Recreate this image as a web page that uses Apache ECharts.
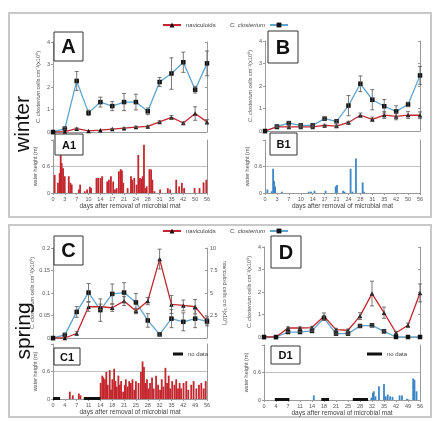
<!DOCTYPE html>
<html>
<head>
<meta charset="utf-8">
<script src="https://cdn.jsdelivr.net/npm/echarts@6/dist/echarts.min.js"></script>
<style>
  html, body { margin: 0; padding: 0; background: #fff; }
  #chart { width: 438px; height: 421px; }
</style>
</head>
<body>
<div id="chart"></div>
<script>
// sampling days
const winterDays = ['0', '3', '7', '10', '14', '17', '21', '24', '28', '31', '35', '42', '50', '56']
const springDays = ['0', '4', '7', '11', '14', '18', '21', '25', '28', '32', '35', '42', '49', '56']

// A - winter, left
const aClost = [0, 0.15, 2.27, 0.85, 1.33, 1.15, 1.33, 1.33, 0.92, 2.22, 2.6, 3.1, 1.88, 3.05]
const aClostErr = [0, 0.05, 0.42, 0.12, 0.22, 0.2, 0.38, 0.35, 0.15, 0.2, 0.7, 0.45, 0.15, 0.55]
const aNavi = [0, 0.02, 0.15, 0.05, 0.08, 0.13, 0.17, 0.22, 0.25, 0.45, 0.65, 0.4, 0.82, 0.45]
const aNaviErr = [0, 0, 0.03, 0, 0, 0.02, 0.02, 0.03, 0.03, 0.05, 0.08, 0.05, 0.3, 0.1]

// B - winter, right
const bClost = [0, 0.2, 0.35, 0.25, 0.25, 0.55, 0.43, 1.13, 2.1, 1.39, 1.1, 0.87, 1.18, 2.47]
const bClostErr = [0, 0.05, 0.05, 0.05, 0.05, 0.05, 0.05, 0.45, 0.35, 0.45, 0.3, 0.25, 0.1, 0.4]
const bNavi = [0, 0.18, 0.18, 0.18, 0.18, 0.25, 0.22, 0.38, 0.7, 0.52, 0.71, 0.65, 0.71, 0.7]
const bNaviErr = [0, 0.03, 0.05, 0.05, 0.05, 0.05, 0.05, 0.05, 0.1, 0.1, 0.15, 0.15, 0.15, 0.15]

// C - spring, left (naviculoids on right axis)
const cClost = [0, 0.007, 0.058, 0.101, 0.062, 0.098, 0.101, 0.079, 0.039, 0.008, 0.043, 0.036, 0.043, 0.037]
const cClostErr = [0, 0.003, 0.012, 0.02, 0.025, 0.022, 0.022, 0.02, 0.015, 0.003, 0.02, 0.02, 0.02, 0.01]
const cNavi = [0, 0, 0.5, 3.47, 3.47, 3.36, 4.1, 3.0, 4.1, 8.77, 3.73, 3.62, 3.47, 1.87]
const cNaviErr = [0, 0, 0.2, 0.5, 0.3, 0.4, 0.5, 0.3, 0.4, 1.1, 1.0, 0.6, 0.8, 0.3]

// D - spring, right
const dClost = [0, 0, 0.22, 0.22, 0.27, 0.84, 0.15, 0.15, 0.49, 0.52, 0.25, 0, 0, 0]
const dClostErr = [0, 0, 0.03, 0.03, 0.03, 0.1, 0.03, 0.03, 0.05, 0.05, 0.03, 0, 0, 0]
const dNavi = [0, 0, 0.4, 0.4, 0.42, 0.92, 0.33, 0.3, 0.93, 1.93, 1.08, 0.19, 0.52, 1.96]
const dNaviErr = [0, 0, 0.05, 0.05, 0.05, 0.15, 0.05, 0.05, 0.15, 0.55, 0.25, 0.05, 0.1, 0.4]

// water height (m): [position in sampling intervals, height]
const a1Bars = [[0.14, 0.41], [0.42, 0.23], [0.56, 0.45], [0.65, 0.95], [0.73, 0.68], [0.85, 0.56], [0.99, 0.38],
  [1.33, 0.38], [1.47, 0.23], [1.58, 0.19], [2.18, 0.08], [2.29, 0.19], [2.68, 0.04], [2.88, 0.08], [3.11, 0.14],
  [3.22, 0.11], [3.67, 0.34], [3.81, 0.34], [4.01, 0.34], [4.15, 0.38], [4.58, 0.26], [4.72, 0.3], [4.89, 0.38],
  [5.08, 0.26], [5.23, 0.08], [5.37, 0.11], [5.56, 0.49], [5.71, 0.54], [5.82, 0.51], [5.93, 0.23], [6.3, 0.11],
  [6.58, 0.38], [6.69, 0.3], [6.86, 0.34], [7.06, 0.19], [7.2, 0.86], [7.34, 0.34], [7.46, 0.32], [7.57, 0.38],
  [7.68, 1.09], [7.82, 0.11], [7.91, 0.15], [8.14, 0.54], [8.28, 0.53], [8.39, 0.3], [8.56, 0.04], [9.04, 0.08],
  [9.69, 0.11], [9.89, 0.08], [10.4, 0.3], [10.65, 0.15], [10.88, 0.23], [11.07, 0.11], [11.95, 0.11],
  [12.37, 0.11], [12.71, 0.24], [12.94, 0.3]]
const b1Bars = [[0.2, 0.08], [0.56, 0.04], [0.68, 0.55], [0.76, 0.27], [0.85, 0.15], [1.41, 0.03], [3.67, 0.03],
  [3.87, 0.03], [4.15, 0.05], [5.08, 0.05], [5.93, 0.15], [6.04, 0.18], [6.55, 0.05], [6.67, 0.03], [7.18, 0.55],
  [7.34, 0.03], [7.63, 0.78], [8.19, 0.24], [8.31, 0.03]]
const c1Bars = [[1.42, 0.16], [1.67, 0.08], [2.18, 0.12], [2.32, 0.08], [4.02, 0.35], [4.16, 0.51], [4.25, 0.47],
  [4.39, 0.43], [4.5, 0.59], [4.62, 0.31], [4.79, 0.63], [4.9, 0.2], [5.01, 0.43], [5.16, 0.66], [5.27, 0.39],
  [5.38, 0.27], [5.52, 0.51], [5.64, 0.31], [5.75, 0.39], [5.92, 0.16], [6.06, 0.31], [6.15, 0.43], [6.29, 0.27],
  [6.43, 0.39], [6.57, 0.35], [6.71, 0.43], [6.86, 0.2], [7.0, 0.39], [7.22, 0.35], [7.42, 0.59], [7.56, 0.82],
  [7.68, 0.7], [7.79, 0.35], [7.93, 0.43], [8.05, 0.23], [8.19, 0.35], [8.36, 0.47], [8.5, 0.23], [8.7, 0.51],
  [8.87, 0.31], [9.04, 0.2], [9.18, 0.43], [9.32, 0.27], [9.49, 0.68], [9.63, 0.35], [9.77, 0.51], [9.89, 0.23],
  [10.06, 0.39], [10.25, 0.31], [10.4, 0.43], [10.55, 0.23], [10.69, 0.35], [10.82, 0.23], [11.02, 0.35],
  [11.25, 0.39], [11.42, 0.2], [11.67, 0.31], [11.87, 0.39], [12.1, 0.23], [12.32, 0.31], [12.52, 0.35],
  [12.72, 0.23], [12.89, 0.39]]
const d1Bars = [[4.15, 0.1], [8.95, 0.05], [9.07, 0.16], [9.15, 0.19], [9.29, 0.08], [9.58, 0.3], [10.0, 0.35],
  [10.14, 0.08], [10.31, 0.12], [10.51, 0.08], [10.71, 0.07], [11.3, 0.1], [11.5, 0.1], [11.92, 0.03],
  [12.06, 0.01], [12.43, 0.47], [12.54, 0.44], [12.71, 0.19]]

// periods without water data: [start, end]
const c1NoData = [[0, 0.6], [2.6, 4.0]]
const d1NoData = [[0.9, 2.12], [4.77, 5.42], [7.4, 8.67]]

const RED = '#c4262e'
const BLUE = '#5fa5cf'
const BAR_BLUE = '#3d86c6'
const AXIS = '#9a9a9a'
const LBL = '#555'
const FONT = 'Liberation Sans'
const CLOST_NAME = '{i|C. closterium} cells cm⁻²(x10⁵)'

const panels = [
  { grid: { left: 53, top: 42, width: 154, height: 90 }, sub: { left: 53, top: 140, width: 154, height: 53 },
    days: winterDays, clost: aClost, clostErr: aClostErr, navi: aNavi, naviErr: aNaviErr,
    bars: a1Bars, barColor: RED, noData: [], yMax: 4, yStep: 1 },
  { grid: { left: 265, top: 41, width: 155, height: 90 }, sub: { left: 265, top: 140, width: 155, height: 53 },
    days: winterDays, clost: bClost, clostErr: bClostErr, navi: bNavi, naviErr: bNaviErr,
    bars: b1Bars, barColor: BAR_BLUE, noData: [], yMax: 4, yStep: 1 },
  { grid: { left: 53, top: 248, width: 154, height: 90 }, sub: { left: 53, top: 344, width: 154, height: 55 },
    days: springDays, clost: cClost, clostErr: cClostErr, navi: cNavi, naviErr: cNaviErr,
    bars: c1Bars, barColor: RED, noData: c1NoData, yMax: 0.2, yStep: 0.05, naviRight: true },
  { grid: { left: 264, top: 247, width: 156, height: 90 }, sub: { left: 264, top: 345, width: 156, height: 55 },
    days: springDays, clost: dClost, clostErr: dClostErr, navi: dNavi, naviErr: dNaviErr,
    bars: d1Bars, barColor: BAR_BLUE, noData: d1NoData, yMax: 4, yStep: 1 }
]

// error bar with caps
function errItem(params, api) {
  const i = api.value(0), v = api.value(1), e = api.value(2)
  if (!e) return
  const top = api.coord([i, v + e])
  const bot = api.coord([i, Math.max(0, v - e)])
  const st = { stroke: '#555', lineWidth: 0.8 }
  return {
    type: 'group',
    children: [
      { type: 'line', shape: { x1: top[0], y1: top[1], x2: bot[0], y2: bot[1] }, style: st },
      { type: 'line', shape: { x1: top[0] - 2, y1: top[1], x2: top[0] + 2, y2: top[1] }, style: st },
      { type: 'line', shape: { x1: bot[0] - 2, y1: bot[1], x2: bot[0] + 2, y2: bot[1] }, style: st }
    ]
  }
}

// thick black segment on the baseline = no data
function gapItem(params, api) {
  const a = api.coord([api.value(0), 0])
  const b = api.coord([api.value(1), 0])
  return { type: 'rect', shape: { x: a[0], y: a[1] - 2, width: b[0] - a[0], height: 3 }, style: { fill: '#111' } }
}

const axisLine = { show: true, lineStyle: { color: AXIS, width: 1 } }
const tickLbl = { fontSize: 5.5, color: LBL, fontFamily: FONT, margin: 3 }

const grid = [], xAxis = [], yAxis = [], series = []

panels.forEach((p, k) => {
  // line panel
  const g = grid.length
  grid.push(p.grid)
  const xL = xAxis.length
  xAxis.push({ gridIndex: g, type: 'category', data: p.days, boundaryGap: false,
    axisLine, axisTick: { show: false }, axisLabel: { show: false } })
  const yL = yAxis.length
  yAxis.push({ gridIndex: g, type: 'value', min: 0, max: p.yMax, interval: p.yStep,
    axisLine, axisTick: { show: true, length: 2, lineStyle: { color: AXIS } },
    axisLabel: tickLbl, splitLine: { show: false },
    name: CLOST_NAME, nameLocation: 'middle', nameGap: p.yMax < 1 ? 17 : 12,
    nameTextStyle: { fontSize: 5.5, color: LBL, fontFamily: FONT, rich: { i: { fontSize: 5.5, color: LBL, fontStyle: 'italic', fontFamily: FONT } } } })
  const yR = yAxis.length
  yAxis.push({ gridIndex: g, type: 'value', position: 'right', min: 0,
    max: p.naviRight ? 10 : p.yMax, interval: p.naviRight ? 2.5 : p.yStep,
    axisLine, axisTick: { show: true, inside: true, length: 2, lineStyle: { color: AXIS } },
    axisLabel: p.naviRight ? Object.assign({}, tickLbl, { formatter: v => (v === 0 ? '' : v) }) : { show: false },
    splitLine: { show: false },
    name: p.naviRight ? 'naviculoid cells cm⁻²(x10⁵)' : '', nameLocation: 'middle', nameGap: 13, nameRotate: -90,
    nameTextStyle: { fontSize: 5.5, color: LBL, fontFamily: FONT } })

  series.push({ type: 'line', name: 'C. closterium', xAxisIndex: xL, yAxisIndex: yL, data: p.clost,
    lineStyle: { color: BLUE, width: 1.3 }, itemStyle: { color: '#111' }, symbol: 'rect', symbolSize: 4.5, z: 3 })
  series.push({ type: 'line', name: 'naviculoids', xAxisIndex: xL, yAxisIndex: p.naviRight ? yR : yL, data: p.navi,
    lineStyle: { color: RED, width: 1.3 }, itemStyle: { color: '#111' }, symbol: 'triangle', symbolSize: 4.5, z: 3 })
  series.push({ type: 'custom', name: 'err', xAxisIndex: xL, yAxisIndex: yL, renderItem: errItem,
    encode: { x: 0, y: 1 }, data: p.clost.map((v, i) => [i, v, p.clostErr[i]]), z: 4, silent: true })
  series.push({ type: 'custom', name: 'err', xAxisIndex: xL, yAxisIndex: p.naviRight ? yR : yL, renderItem: errItem,
    encode: { x: 0, y: 1 }, data: p.navi.map((v, i) => [i, v, p.naviErr[i]]), z: 4, silent: true })

  // water height panel
  const gb = grid.length
  grid.push(p.sub)
  const xB = xAxis.length
  xAxis.push({ gridIndex: gb, type: 'value', min: 0, max: 13, interval: 1,
    axisLine, axisTick: { show: true, length: 2, lineStyle: { color: AXIS } },
    axisLabel: Object.assign({}, tickLbl, { formatter: v => p.days[v] }), splitLine: { show: false },
    name: 'days after removal of microbial mat', nameLocation: 'middle', nameGap: 10,
    nameTextStyle: { fontSize: 6.5, color: '#444', fontFamily: FONT } })
  const yB = yAxis.length
  yAxis.push({ gridIndex: gb, type: 'value', min: 0, max: 1.2, interval: 0.6,
    axisLine, axisTick: { show: true, length: 2, lineStyle: { color: AXIS } },
    axisLabel: Object.assign({}, tickLbl, { formatter: v => (v > 1 ? '' : v) }),
    splitLine: { show: true, showMinLine: false, showMaxLine: false, lineStyle: { color: '#b0b0b0', width: 0.8 } },
    name: 'water height (m)', nameLocation: 'middle', nameGap: 10,
    nameTextStyle: { fontSize: 5.5, color: LBL, fontFamily: FONT } })
  yAxis.push({ gridIndex: gb, type: 'value', position: 'right', min: 0, max: 1.2,
    axisLine, axisTick: { show: false }, axisLabel: { show: false }, splitLine: { show: false } })

  series.push({ type: 'bar', name: 'water', xAxisIndex: xB, yAxisIndex: yB, data: p.bars,
    barWidth: 1.8, itemStyle: { color: p.barColor }, silent: true })
  if (p.noData.length) {
    series.push({ type: 'custom', name: 'no data', xAxisIndex: xB, yAxisIndex: yB, renderItem: gapItem,
      encode: { x: [0, 1] }, data: p.noData, itemStyle: { color: '#111' }, z: 5, silent: true })
  }
})

// panel label boxes
const labels = [
  ['A', 54, 32, 29, 29, 20], ['B', 268, 31, 30, 32, 20], ['C', 54, 236, 29, 29, 20], ['D', 271, 236, 30, 32, 20],
  ['A1', 55, 134, 28, 21, 11], ['B1', 270, 133, 27, 22, 11], ['C1', 54, 348, 26, 17, 11], ['D1', 271, 346, 29, 18, 11]
]

const graphic = [
  { type: 'rect', shape: { x: 9, y: 13, width: 422, height: 204 }, style: { fill: 'none', stroke: '#c8c8c8', lineWidth: 2 }, z: 0 },
  { type: 'rect', shape: { x: 9, y: 225, width: 422, height: 192 }, style: { fill: 'none', stroke: '#c8c8c8', lineWidth: 2 }, z: 0 },
  { type: 'text', x: 23, y: 124, rotation: Math.PI / 2,
    style: { text: 'winter', font: '21px "Liberation Sans"', fill: '#111', align: 'center', verticalAlign: 'middle' }, z: 10 },
  { type: 'text', x: 24, y: 331, rotation: Math.PI / 2,
    style: { text: 'spring', font: '21px "Liberation Sans"', fill: '#111', align: 'center', verticalAlign: 'middle' }, z: 10 }
]
labels.forEach(([t, x, y, w, h, fs]) => {
  graphic.push({ type: 'rect', shape: { x, y, width: w, height: h }, style: { fill: '#fff', stroke: '#333', lineWidth: 1 }, z: 50 })
  graphic.push({ type: 'text', x: x + w / 2, y: y + h / 2 + 1,
    style: { text: t, font: 'bold ' + fs + 'px "Liberation Sans"', fill: '#111', align: 'center', verticalAlign: 'middle' }, z: 51 })
})

const legTxt = { fontSize: 6, color: '#444', fontFamily: FONT }
const legBase = { padding: 0, itemWidth: 18, itemHeight: 6, textStyle: legTxt, selectedMode: false, z: 60 }
const legend = [
  Object.assign({}, legBase, { data: ['naviculoids'], left: 162, top: 22 }),
  Object.assign({}, legBase, { data: ['C. closterium'], left: 230, top: 22, align: 'right',
    textStyle: Object.assign({}, legTxt, { fontStyle: 'italic' }) }),
  Object.assign({}, legBase, { data: ['naviculoids'], left: 162, top: 228 }),
  Object.assign({}, legBase, { data: ['C. closterium'], left: 230, top: 228, align: 'right',
    textStyle: Object.assign({}, legTxt, { fontStyle: 'italic' }) }),
  Object.assign({}, legBase, { data: ['no data'], left: 173, top: 351, icon: 'rect', itemWidth: 10, itemHeight: 3 }),
  Object.assign({}, legBase, { data: ['no data'], left: 367, top: 351, icon: 'rect', itemWidth: 15, itemHeight: 3 })
]

const chart = echarts.init(document.getElementById('chart'))
chart.setOption({
  animation: false,
  textStyle: { fontFamily: FONT },
  grid, xAxis, yAxis, series, legend, graphic
})
</script>
</body>
</html>
